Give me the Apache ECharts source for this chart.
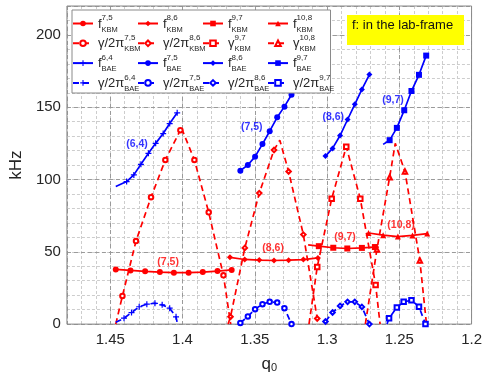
<!DOCTYPE html>
<html><head><meta charset="utf-8">
<script src="https://cdn.jsdelivr.net/npm/echarts@6/dist/echarts.min.js"></script>
<style>html,body{margin:0;padding:0;background:#fff}#c{width:485px;height:378px}</style>
</head><body><div id="c"></div>
<script>
// ---- tick labels ----
const xTickLabels = ['1.45', '1.4', '1.35', '1.3', '1.25', '1.2'];
const yTickLabels = ['0', '50', '100', '150', '200'];

// ---- KBM frequencies (marked points) ----
const fKBM75 = [[1.4462,37.8],[1.436,37.1],[1.4259,36.5],[1.4157,36.0],[1.406,35.6],[1.3958,35.6],[1.386,36.0],[1.3758,36.7],[1.366,37.5]];
const fKBM86 = [[1.3672,46.2],[1.357,44.7],[1.3469,44.3],[1.3367,44.0],[1.3266,44.2],[1.3164,44.6],[1.3063,45.8]];
const fKBM97 = [[1.3057,53.9],[1.2957,52.8],[1.286,52.3],[1.2759,52.7],[1.2669,53.3]];
const fKBM97Ends = [[1.3131,54.8],[1.2642,53.3]];
const fKBM108 = [[1.2713,63.0],[1.2612,61.5],[1.251,60.5],[1.2409,61.3],[1.2307,62.6]];

// ---- KBM growth rates (marked points + unmarked vertices) ----
const gKBM75 = [[1.4416,19.5],[1.4322,57.4],[1.4218,87.8],[1.4119,113.5],[1.4015,134.1],[1.3918,113.5],[1.3819,77.3],[1.3717,33.7]];
const gKBM75Ends = [[1.4462,0],[1.401,136.3],[1.3667,0]];
const gKBM86 = [[1.3668,5.1],[1.3569,52.7],[1.3469,90.6],[1.3367,120.4],[1.3266,105.5],[1.3164,61.9],[1.3068,3.9]];
const gKBM86Ends = [[1.3685,0],[1.3327,127.2],[1.3061,0]];
const gKBM97 = [[1.3068,39.5],[1.2968,86.7],[1.2867,122.7],[1.277,86.7],[1.2664,27.1]];
const gKBM97Ends = [[1.3125,0],[1.2633,0]];
const gKBM108 = [[1.2655,51.6],[1.2567,101.6],[1.2461,105.5],[1.2358,44.0]];
const gKBM108Ends = [[1.2735,0],[1.2528,125.0],[1.2312,0]];

// ---- BAE frequencies ----
const fBAE64 = [[1.4387,98.6],[1.4337,103.2],[1.4288,110.5],[1.4236,118.1],[1.4186,125.0],[1.4134,131.8],[1.4089,138.7],[1.4037,146.1]];
const fBAE64Ends = [[1.4462,95.2]];
const fBAE75 = [[1.36,106.1],[1.3548,110.0],[1.3498,115.8],[1.3447,124.5],[1.3397,133.4],[1.3345,143.0],[1.3295,150.4],[1.3246,158.6]];
const fBAE86 = [[1.3011,116.2],[1.2962,121.5],[1.291,130.4],[1.2858,141.5],[1.2808,152.0],[1.2759,162.3],[1.2707,172.6]];
const fBAE97 = [[1.2567,127.2],[1.2517,135.7],[1.2466,147.9],[1.2416,161.2],[1.2364,172.4],[1.2314,185.7]];
const fBAE97Ends = [[1.2612,124.3]];

// ---- BAE growth rates ----
const gBAE64 = [[1.4405,4.1],[1.4353,8.0],[1.43,12.0],[1.4247,13.8],[1.4191,14.4],[1.4141,13.3],[1.4089,11.0],[1.4045,5.0]];
const gBAE64Ends = [[1.4462,1.2],[1.4035,0]];
const gBAE75 = [[1.36,0.8],[1.3548,5.3],[1.3498,10.3],[1.3447,13.8],[1.3397,15.4],[1.3345,14.9],[1.3295,11.0],[1.3246,0]];
const gBAE86 = [[1.3011,1.8],[1.2962,8.0],[1.291,12.6],[1.2858,15.4],[1.2808,15.4],[1.2759,11.9],[1.2707,0]];
const gBAE97 = [[1.2571,4.1],[1.2517,11.5],[1.247,15.4],[1.2416,16.5],[1.2364,12.0],[1.2319,0]];
const gBAE97Ends = [[1.2585,0]];

// ---- annotations ----
const kbmModeLabels = ['(7,5)', '(8,6)', '(9,7)', '(10,8)'];
const kbmModeAt = [[1.41,42.9],[1.3373,52.8],[1.2876,60.5],[1.2488,68.6]];
const baeModeLabels = ['(6,4)', '(7,5)', '(8,6)', '(9,7)'];
const baeModeAt = [[1.4315,124.5],[1.3521,136.0],[1.2957,143.5],[1.2544,155.2]];
const noteText = 'f: in the lab-frame';

// ---- build ----
const RED = '#ff0000', BLUE = '#0000ff', TXT = '#262626';
const PLUS = 'path://M4,0L6,0L6,4L10,4L10,6L6,6L6,10L4,10L4,6L0,6L0,4L4,4Z';

function merge(marked, ends) {
  const arr = marked.map(p => ({ value: p }));
  (ends || []).forEach(p => arr.push({ value: p, symbol: 'none' }));
  arr.sort((a, b) => b.value[0] - a.value[0]);
  return arr;
}
const legendText = {};
function mk(name, main, sup, sub, marked, ends, color, dashed, symbol) {
  legendText[name] = { main, sup, sub };
  const empty = symbol.indexOf('empty') === 0;
  return {
    name, type: 'line', xAxisIndex: 0, yAxisIndex: 0,
    data: merge(marked, ends),
    symbol, symbolSize: symbol === PLUS ? 6 : (empty ? 4.5 : 6),
    showAllSymbol: true,
    lineStyle: { color, width: 1.7, type: dashed ? [6, 4] : 'solid' },
    itemStyle: { color, borderColor: color, borderWidth: empty ? 1.1 : 0 },
    emphasis: { disabled: true },
    animation: false, z: 3
  };
}
const series = [
  mk('fK75', 'f', '7,5', 'KBM', fKBM75, null, RED, false, 'circle'),
  mk('fK86', 'f', '8,6', 'KBM', fKBM86, null, RED, false, 'diamond'),
  mk('fK97', 'f', '9,7', 'KBM', fKBM97, fKBM97Ends, RED, false, 'rect'),
  mk('fK108', 'f', '10,8', 'KBM', fKBM108, null, RED, false, 'triangle'),
  mk('gK75', 'γ/2π', '7,5', 'KBM', gKBM75, gKBM75Ends, RED, true, 'emptyCircle'),
  mk('gK86', 'γ/2π', '8,6', 'KBM', gKBM86, gKBM86Ends, RED, true, 'emptyDiamond'),
  mk('gK97', 'γ', '9,7', 'KBM', gKBM97, gKBM97Ends, RED, true, 'emptyRect'),
  mk('gK108', 'γ', '10,8', 'KBM', gKBM108, gKBM108Ends, RED, true, 'emptyTriangle'),
  mk('fB64', 'f', '6,4', 'BAE', fBAE64, fBAE64Ends, BLUE, false, PLUS),
  mk('fB75', 'f', '7,5', 'BAE', fBAE75, null, BLUE, false, 'circle'),
  mk('fB86', 'f', '8,6', 'BAE', fBAE86, null, BLUE, false, 'diamond'),
  mk('fB97', 'f', '9,7', 'BAE', fBAE97, fBAE97Ends, BLUE, false, 'rect'),
  mk('gB64', 'γ/2π', '6,4', 'BAE', gBAE64, gBAE64Ends, BLUE, true, PLUS),
  mk('gB75', 'γ/2π', '7,5', 'BAE', gBAE75, null, BLUE, true, 'emptyCircle'),
  mk('gB86', 'γ/2π', '8,6', 'BAE', gBAE86, null, BLUE, true, 'emptyDiamond'),
  mk('gB97', 'γ/2π', '9,7', 'BAE', gBAE97, gBAE97Ends, BLUE, true, 'emptyRect')
];
function annot(labels, at, color) {
  return {
    type: 'scatter', xAxisIndex: 0, yAxisIndex: 0, symbolSize: 0, silent: true, z: 4,
    data: labels.map((t, i) => ({ value: at[i], name: t })),
    label: { show: true, position: 'inside', formatter: p => p.name, color,
      fontSize: 10.5, fontWeight: 'bold', fontFamily: 'Liberation Sans, Arial, sans-serif' },
    animation: false
  };
}
series.push(annot(kbmModeLabels, kbmModeAt, RED));
series.push(annot(baeModeLabels, baeModeAt, BLUE));

const rich = {
  g1: { fontSize: 13, lineHeight: 8, color: 'rgba(0,0,0,0)', fontFamily: 'Liberation Sans' },
  sp: { fontSize: 8, lineHeight: 8, color: TXT, fontFamily: 'Liberation Sans' },
  m: { fontSize: 13, lineHeight: 4, color: TXT, fontFamily: 'Liberation Sans' },
  g3: { fontSize: 13, lineHeight: 7, color: 'rgba(0,0,0,0)', fontFamily: 'Liberation Sans' },
  sb: { fontSize: 7.5, lineHeight: 7, color: TXT, fontFamily: 'Liberation Sans' }
};
function legFmt(name) {
  const t = legendText[name];
  return '{g1|' + t.main + '}{sp|' + t.sup + '}\n{m|' + t.main + '}\n{g3|' + t.main + '}{sb|' + t.sub + '}';
}
const names = series.slice(0, 16).map(s => s.name);
const legends = [0, 1, 2, 3].map(c => ({
  orient: 'vertical', left: 72 + c * 65, top: 11.5, padding: 0, itemGap: -4.7,
  itemWidth: 20, itemHeight: 7, selectedMode: false, z: 10,
  data: [names[c], names[4 + c], names[8 + c], names[12 + c]],
  formatter: legFmt, textStyle: { rich }
}));

const xTickVals = xTickLabels.map(Number);
const yTickVals = yTickLabels.map(Number);
function lab(vals, labels) {
  return v => { for (let i = 0; i < vals.length; i++) if (Math.abs(vals[i] - v) < 1e-6) return labels[i]; return ''; };
}
const tickFont = { fontSize: 15, color: TXT, fontFamily: 'Liberation Sans, Arial, sans-serif' };

const option = {
  backgroundColor: '#fff',
  animation: false,
  grid: { left: 58, right: 13, top: 6, bottom: 51, show: true, borderColor: '#8a8a8a', borderWidth: 1, backgroundColor: 'transparent', z: 2 },
  xAxis: [{
    type: 'value', inverse: true, min: 1.2, max: 1.48, interval: 0.05, z: 1,
    axisLine: { show: false }, axisTick: { show: false },
    axisLabel: Object.assign({ formatter: lab(xTickVals, xTickLabels), margin: 8, showMinLabel: true, showMaxLabel: true }, tickFont),
    splitLine: { show: true, lineStyle: { color: '#9a9a9a', type: [4, 3], width: 1 } },
    name: '{q|q}{s|0}', nameLocation: 'middle', nameGap: 26,
    nameTextStyle: { rich: {
      q: { fontSize: 17, lineHeight: 17, color: TXT, fontFamily: 'Liberation Sans' },
      s: { fontSize: 11, lineHeight: 17, verticalAlign: 'bottom', color: TXT, fontFamily: 'Liberation Sans', padding: [10, 0, 0, 0] } } }
  }, {
    type: 'value', inverse: true, min: 1.2, max: 1.48, interval: 0.01, z: 0,
    axisLine: { show: false }, axisTick: { show: false }, axisLabel: { show: false },
    splitLine: { show: true, lineStyle: { color: '#cdcdcd', type: [3, 2], width: 1 } }
  }],
  yAxis: [{
    type: 'value', min: 0, max: 220, interval: 50, z: 1,
    axisLine: { show: false }, axisTick: { show: false },
    axisLabel: Object.assign({ formatter: lab(yTickVals, yTickLabels), margin: 6 }, tickFont),
    splitLine: { show: true, lineStyle: { color: '#9a9a9a', type: [4, 3], width: 1 } },
    name: 'kHz', nameLocation: 'middle', nameGap: 35,
    nameTextStyle: { fontSize: 17, color: TXT, fontFamily: 'Liberation Sans' }
  }, {
    type: 'value', min: 0, max: 220, interval: 10, z: 0,
    axisLine: { show: false }, axisTick: { show: false }, axisLabel: { show: false },
    splitLine: { show: true, lineStyle: { color: '#cdcdcd', type: [3, 2], width: 1 } }
  }],
  legend: legends,
  graphic: [
    { type: 'rect', left: 71.5, top: 9.5, z: 8, silent: true,
      shape: { width: 258.5, height: 83 }, style: { fill: '#fff', stroke: '#8a8a8a', lineWidth: 1 } },
    { type: 'rect', left: 347, top: 15, z: 8, silent: true,
      shape: { width: 117, height: 30 }, style: { fill: '#ffff00' } },
    { type: 'text', left: 352, top: 19, z: 9, silent: true,
      style: { text: noteText, fill: '#111', font: '13px "Liberation Sans", Arial, sans-serif' } }
  ],
  series
};
const chart = echarts.init(document.getElementById('c'), null, { renderer: 'canvas' });
chart.setOption(option);
</script></body></html>
